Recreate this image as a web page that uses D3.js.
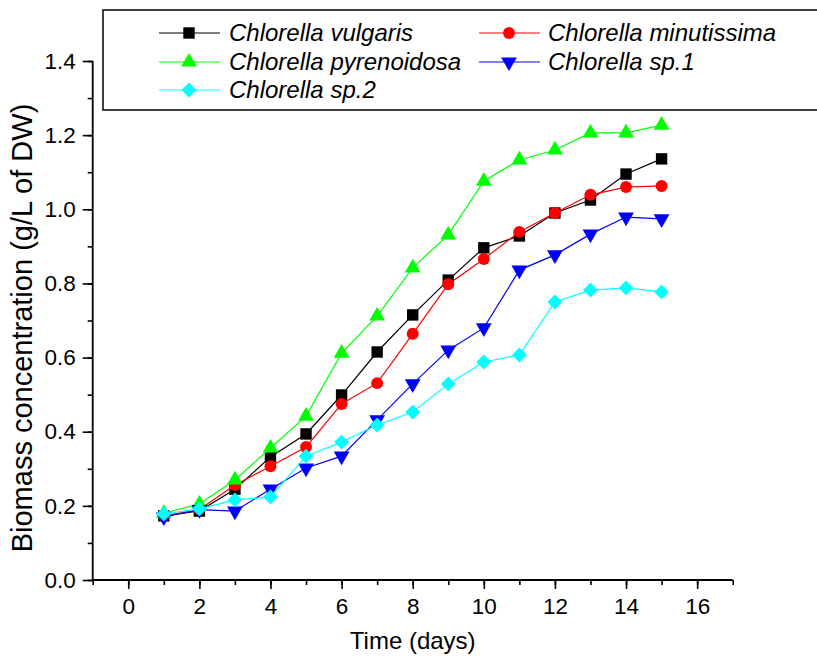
<!DOCTYPE html>
<html>
<head>
<meta charset="utf-8">
<script src="https://cdn.jsdelivr.net/npm/d3@7"></script>
<style>
  body { margin: 0; background: #fff; }
  svg { display: block; font-family: "Liberation Sans", Arial, sans-serif; }
</style>
</head>
<body>
<svg id="chart" width="817" height="658"></svg>
<script>
// days on the x axis
var days = [1, 2, 3, 4, 5, 6, 7, 8, 9, 10, 11, 12, 13, 14, 15];

// biomass (g/L of DW)
var vulgaris    = [0.173, 0.186, 0.245, 0.332, 0.394, 0.499, 0.615, 0.715, 0.809, 0.896, 0.928, 0.990, 1.025, 1.095, 1.136];
var minutissima = [0.173, 0.190, 0.256, 0.307, 0.359, 0.475, 0.531, 0.664, 0.798, 0.866, 0.939, 0.990, 1.039, 1.060, 1.063];
var pyrenoidosa = [0.180, 0.205, 0.270, 0.356, 0.442, 0.612, 0.712, 0.842, 0.931, 1.076, 1.133, 1.160, 1.206, 1.206, 1.227];
var sp1         = [0.170, 0.190, 0.186, 0.245, 0.302, 0.334, 0.432, 0.529, 0.620, 0.680, 0.836, 0.877, 0.933, 0.979, 0.974];
var sp2         = [0.178, 0.192, 0.216, 0.224, 0.334, 0.372, 0.418, 0.453, 0.529, 0.588, 0.607, 0.750, 0.782, 0.788, 0.777];

var seriesNames = ["Chlorella vulgaris", "Chlorella minutissima", "Chlorella pyrenoidosa", "Chlorella sp.1", "Chlorella sp.2"];
var seriesValues = [vulgaris, minutissima, pyrenoidosa, sp1, sp2];
var seriesColors = ["#000000", "#ff0000", "#00ff00", "#0000ff", "#00ffff"];

var xTicks = [0, 2, 4, 6, 8, 10, 12, 14, 16];
var yTicks = [0.0, 0.2, 0.4, 0.6, 0.8, 1.0, 1.2, 1.4];

var svg = d3.select("#chart");

var x = d3.scaleLinear().domain([-1, 17]).range([92.7, 732.7]);
var y = d3.scaleLinear().domain([0, 1.4]).range([580, 61]);

// marker shapes, one per series
var shapes = [
  d3.symbol().type(d3.symbolSquare).size(130),
  d3.symbol().type(d3.symbolCircle).size(112),
  d3.symbol().type(d3.symbolTriangle).size(108),
  d3.symbol().type(d3.symbolTriangle).size(108),
  d3.symbol().type(d3.symbolSquare).size(110)
];
var rotations = [0, 0, 0, 180, 45];

/**
Axes
*/
var minorX = d3.range(-1, 18, 1);
var minorY = d3.range(0, 1.41, 0.1);

svg.append("g").attr("class", "ax").attr("transform", "translate(0,580)")
  .call(d3.axisBottom(x).tickValues(minorX).tickSize(5).tickFormat(""));
svg.append("g").attr("class", "ax").attr("transform", "translate(0,580)")
  .call(d3.axisBottom(x).tickValues(xTicks).tickSize(9).tickPadding(9).tickFormat(d3.format("d")));

svg.append("g").attr("class", "ax").attr("transform", "translate(92.7,0)")
  .call(d3.axisLeft(y).tickValues(minorY).tickSize(5).tickFormat(""));
svg.append("g").attr("class", "ax").attr("transform", "translate(92.7,0)")
  .call(d3.axisLeft(y).tickValues(yTicks).tickSize(10).tickPadding(7).tickFormat(d3.format(".1f")));

svg.selectAll(".ax .domain").remove();
svg.selectAll(".ax .tick line").attr("stroke", "#000").attr("stroke-width", 1.6);
svg.selectAll(".ax .tick text").attr("fill", "#000").style("font-size", "22.5px");

// axis lines (L shape)
svg.append("path")
  .attr("d", "M" + x.range()[0] + "," + y.range()[1] + "V" + y.range()[0] + "H" + x.range()[1])
  .style("fill", "none")
  .style("stroke", "#000")
  .style("stroke-width", "1.8px");

svg.append("text")
  .attr("x", (x.range()[0] + x.range()[1]) / 2).attr("y", 649)
  .attr("text-anchor", "middle")
  .style("font-size", "24px")
  .text("Time (days)");

svg.append("text")
  .attr("transform", "translate(32,328) rotate(-90)")
  .attr("text-anchor", "middle")
  .style("font-size", "29px")
  .text("Biomass concentration (g/L of DW)");

/**
Series lines and markers
*/
var line = d3.line()
  .x(function(d, i){ return x(days[i]); })
  .y(function(d){ return y(d); });

seriesValues.forEach(function(vals, s){
  var g = svg.append("g");
  g.append("path")
    .datum(vals)
    .attr("d", line)
    .style("fill", "none")
    .style("stroke", seriesColors[s])
    .style("stroke-width", "1.2px");
  g.selectAll("path.mark")
    .data(vals)
    .enter().append("path")
    .attr("class", "mark")
    .attr("d", shapes[s])
    .attr("transform", function(d, i){
      return "translate(" + x(days[i]) + "," + y(d) + ") rotate(" + rotations[s] + ")";
    })
    .style("fill", seriesColors[s]);
});

/**
Legend
*/
var legend = svg.append("g");
legend.append("rect")
  .attr("x", 103).attr("y", 10)
  .attr("width", 730).attr("height", 100)
  .style("fill", "#fff")
  .style("stroke", "#000")
  .style("stroke-width", "1.5px");

// [line start x, row y, text offset]
var legendPos = [[159, 33, 70], [479, 33, 69], [159, 62, 70], [479, 62, 69], [159, 90, 70]];

seriesNames.forEach(function(name, s){
  var p = legendPos[s];
  var item = legend.append("g").attr("transform", "translate(" + p[0] + "," + p[1] + ")");
  item.append("line")
    .attr("x1", 0).attr("x2", 61).attr("y1", 0).attr("y2", 0)
    .style("stroke", seriesColors[s]).style("stroke-width", "1.2px");
  item.append("path")
    .attr("d", shapes[s])
    .attr("transform", "translate(30,0) rotate(" + rotations[s] + ")")
    .style("fill", seriesColors[s]);
  item.append("text")
    .attr("x", p[2]).attr("y", 8)
    .style("font-size", "24px")
    .style("font-style", "italic")
    .text(name);
});
</script>
</body>
</html>
